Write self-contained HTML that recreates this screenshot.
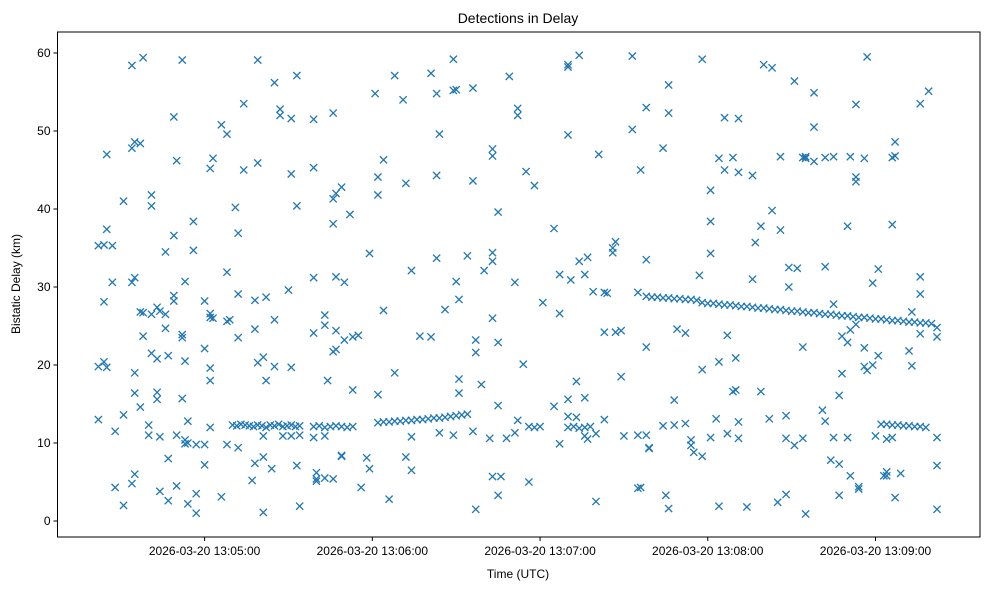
<!DOCTYPE html>
<html><head><meta charset="utf-8"><style>
body{margin:0;background:#fff;}
svg{display:block;font-family:"Liberation Sans","DejaVu Sans",sans-serif;}
</style></head><body>
<svg id="chart" width="989" height="590" viewBox="0 0 989 590">
<rect x="0" y="0" width="989" height="590" fill="#fff"/>
<text x="518" y="23" text-anchor="middle" font-size="14">Detections in Delay</text>
<g id="marks"></g>
<g id="axes"></g>
<text x="518" y="578" text-anchor="middle" font-size="12">Time (UTC)</text>
<text transform="translate(20,284) rotate(-90)" text-anchor="middle" font-size="12">Bistatic Delay (km)</text>
</svg>
<script>
// seconds relative to 2026-03-20 13:05:00 UTC, delay km
const xTickSeconds = [0, 60, 120, 180, 240];
const xTickLabels = ["2026-03-20 13:05:00","2026-03-20 13:06:00","2026-03-20 13:07:00","2026-03-20 13:08:00","2026-03-20 13:09:00"];
const yTickValues = [0, 10, 20, 30, 40, 50, 60];
const noisePoints = [
[-38,13],[-38,19.8],[-38,35.3],[-36,20.4],[-36,35.4],[-36,28.1],[-35,47],[-35,37.4],[-35,19.7],[-33,30.6],[-33,35.3],
[-32,11.5],[-32,4.3],[-29,41],[-29,2],[-29,13.6],[-26,58.4],[-26,4.8],[-26,30.6],[-26,47.8],[-25,48.6],[-25,31.2],[-25,6],[-25,19],[-25,16.4],
[-23,48.4],[-23,26.8],[-23,14.6],[-22,59.4],[-22,26.7],[-22,23.7],[-20,12.3],[-20,11],[-19,41.8],[-19,40.4],[-19,26.5],[-19,21.5],
[-17,20.8],[-17,16.5],[-17,15.6],[-17,27.4],[-16,26.9],[-16,3.8],[-16,10.8],[-14,34.5],[-14,24.7],[-14,26.5],[-13,8],[-13,2.6],[-13,21.2],
[-11,51.8],[-11,36.6],[-11,28.9],[-11,28.2],[-10,46.2],[-10,4.5],[-10,11],[-8,59.1],[-8,15.7],[-8,23.9],[-8,23.5],[-7,30.7],[-7,20.5],[-7,10.4],[-7,9.9],
[-6,12.8],[-6,10],[-6,2.2],[-4,38.4],[-4,34.7],[-3,3.5],[-3,1],[-3,9.8],[0,28.2],[0,22.1],[0,9.8],[0,7.2],
[2,45.2],[2,19.6],[2,18],[2,26.1],[2,26.6],[2,12],[3,46.5],[3,26],[6,50.8],[6,3.1],[8,49.6],[8,31.9],[8,25.6],[8,9.8],[9,25.8],
[11,40.2],[12,36.9],[12,29.1],[12,23.5],[12,9.4],[14,53.5],[14,45],[17,5.2],[18,28.3],[18,24.6],[18,7.4],[19,59.1],[19,45.9],[19,20.3],
[21,21],[21,1.1],[21,8.2],[21,10.9],[22,18],[22,28.7],[24,6.7],[25,56.2],[25,19.8],[25,25.8],[27,52.8],[27,52],[28,10.9],[30,29.6],
[31,51.6],[31,44.5],[31,19.7],[31,10.9],[33,57.1],[33,40.4],[33,7.1],[34,1.9],[34,11],[39,45.3],[39,51.5],[39,31.2],[39,24.1],[39,10.7],
[40,6.2],[40,5.4],[40,5.1],[43,26.4],[43,25.1],[43,10.9],[43,5.5],[44,18],[46,21.7],[46,5.4],[46,38.1],[46,52.3],[46,41.3],
[47,42],[47,31.3],[47,22],[47,24.4],[49,42.8],[49,8.4],[49,8.3],[50,30.6],[50,23.2],[52,39.3],[53,16.8],[53,23.6],[55,23.8],[56,4.3],[58,8.1],
[59,34.3],[59,6.7],[61,54.8],[62,44.1],[62,16.2],[62,41.8],[64,46.3],[64,27],[66,2.8],[68,57.1],[68,19],[71,54],[72,43.3],[72,8.2],
[74,32.1],[74,10.8],[74,6.5],[77,23.7],[81,23.6],[81,57.4],[83,54.8],[83,33.7],[83,44.3],[84,49.6],[84,11.3],[86,27.1],
[89,11],[89,59.2],[89,55.2],[90,55.3],[90,30.7],[91,18.2],[91,28.4],[91,16.4],[94,34],[96,43.6],[96,55.5],[96,11.5],[97,21.6],[97,23.2],[97,1.5],
[99,17.5],[100,32.1],[102,10.6],[103,47.7],[103,46.8],[103,34.4],[103,26],[103,5.7],[103,33.3],[105,22.9],[105,14.8],[105,3.3],[105,39.6],[106,5.7],
[108,10.6],[109,57],[111,11.3],[111,30.6],[112,52.9],[112,12.9],[112,52],[114,20.1],[115,44.8],[116,5],[118,43],[121,28],
[125,37.5],[125,14.7],[127,31.6],[127,26.6],[127,9.9],[130,58.5],[130,58.2],[130,49.5],[130,13.4],[130,15.6],[131,30.9],[133,17.9],[133,13.3],
[134,59.7],[134,33.3],[136,31.6],[136,15.8],[136,10.9],[137,33.8],[137,10.5],[139,29.4],[140,11.2],[140,2.5],[141,47],[143,29.3],[143,24.2],[143,13],
[144,29.2],[146,35],[146,34.4],[147,35.8],[147,24.2],[149,24.4],[149,18.5],[150,10.9],[153,59.6],[153,50.2],[155,11],[155,4.2],[155,29.3],
[156,45],[156,4.3],[158,53],[158,33.5],[158,22.3],[158,11],[159,9.3],[159,9.4],[164,47.8],[164,12.2],[165,3.3],[166,1.6],[166,55.9],[166,52.3],
[168,15.5],[168,12.3],[169,24.6],[172,12.5],[172,24.1],[174,10.4],[174,9.7],[175,8.8],[177,31.5],[178,59.2],[178,8.3],[178,19.4],
[181,10.7],[181,42.4],[181,38.4],[181,34.3],[183,13.1],[184,46.5],[184,20.4],[184,1.9],[186,51.7],[186,45],[187,23.8],[187,11.2],[189,46.6],[189,16.6],
[190,16.8],[190,20.9],[191,44.7],[191,51.6],[191,12.7],[191,10.6],[194,1.8],[196,44.3],[196,31],[197,35.7],[199,37.8],[199,16.6],[200,58.5],[202,13.1],
[203,58.1],[203,39.8],[205,2.4],[206,46.7],[206,37.3],[208,3.4],[208,13.5],[208,10.6],[209,32.5],[209,30],[211,56.4],[211,9.7],[212,32.4],
[214,46.6],[214,22.3],[214,10.6],[215,46.7],[215,46.5],[215,0.9],[218,54.9],[218,50.5],[218,46.1],[221,14.2],[222,46.6],[222,32.6],[222,12.8],[224,7.8],
[225,46.7],[225,27.8],[225,10.7],[227,3.3],[227,16.1],[227,7.3],[228,18.9],[228,23.7],[230,37.8],[230,22.9],[230,10.7],[231,46.7],[231,5.8],[231,24.5],
[233,53.4],[233,43.5],[233,44.1],[233,25.2],[234,4.4],[234,4.1],[236,46.5],[236,22.2],[236,19.8],[237,59.5],[237,19.3],[239,30.5],[239,20],[240,10.9],
[241,32.3],[241,21.2],[243,5.8],[244,5.8],[244,6.3],[244,10.5],[246,46.6],[246,38],[246,10.7],[247,48.6],[247,46.8],[247,3],[249,6.1],
[252,21.8],[253,19.9],[253,26.8],[256,53.5],[256,31.3],[256,29.1],[256,24],[259,55.1],[262,23.6],[262,10.7],[262,1.5],[262,7.1],[262,24.8]
];
const trackA = [[10,12.3],[11.5,12.2],[13,12.4],[14.5,12.3],[16,12.2],[17.5,12.1],[19,12.3],[20.5,12.2],[22,12.0],[23.5,12.3],[25,12.2],[26.5,12.4],[28,12.1],[29.5,12.2],[31,12.3],[32.5,12.1],[34,12.2]];
const trackB = [[39,12.1],[41,12.2],[43,12.0],[45,12.1],[47,12.2],[49,12.1],[51,12.0],[53,12.1]];
const trackC = [[62,12.6],[64,12.7],[66,12.7],[68,12.8],[70,12.8],[72,12.9],[74,12.9],[76,13.0],[78,13.0],[80,13.1],[82,13.2],[84,13.2],[86,13.3],[88,13.4],[90,13.5],[92,13.6],[94,13.7]];
const trackD = [[116,12.1],[118,12.0],[120,12.1],[130,12.0],[132,12.1],[134,11.9],[136,12.0],[138,12.1]];
const trackE = [[158,28.8],[160,28.7],[162,28.7],[164,28.6],[166,28.6],[168,28.5],[170,28.5],[172,28.4],[174,28.4],[176,28.3]];
const trackF = [[178,28.0],[180,27.9],[182,27.9],[184,27.8],[186,27.7],[188,27.7],[190,27.6],[192,27.5],[194,27.5],[196,27.4],[198,27.3],[200,27.3],[202,27.2],[204,27.1],[206,27.1],[208,27.0],[210,26.9],[212,26.9],[214,26.8],[216,26.7],[218,26.7],[220,26.6],[222,26.5],[224,26.5],[226,26.4],[228,26.3],[230,26.3],[232,26.2],[234,26.1],[236,26.1],[238,26.0],[240,25.9],[242,25.9],[244,25.8],[246,25.7],[248,25.7],[250,25.6],[252,25.5],[254,25.5],[256,25.4],[258,25.4],[260,25.3]];
const trackG = [[242,12.4],[244,12.4],[246,12.3],[248,12.3],[250,12.2],[252,12.2],[254,12.1],[256,12.1],[258,12.0]];

const PL=57.5, PR=980, PT=32, PB=537;
function xScale(s){ return 204.6 + s*(875.5-204.6)/240; }
function yScale(v){ return 521 - v*(521-53)/60; }
const NS="http://www.w3.org/2000/svg";
const marks=document.getElementById('marks');
const axes=document.getElementById('axes');
function mk(tag,attrs,parent){const e=document.createElementNS(NS,tag);for(const k in attrs)e.setAttribute(k,attrs[k]);parent.appendChild(e);return e;}
const all=[noisePoints,trackA,trackB,trackC,trackD,trackE,trackF,trackG];
all.forEach(arr=>arr.forEach(p=>{
  const cx=xScale(p[0]), cy=yScale(p[1]), r=3.6;
  const g=mk('path',{d:`M${cx-r},${cy-r}L${cx+r},${cy+r}M${cx-r},${cy+r}L${cx+r},${cy-r}`,stroke:'#1f77b4','stroke-width':1.3,fill:'none'},marks);
  
  
}));
const frame=mk('rect',{x:PL,y:PT,width:PR-PL,height:PB-PT,fill:'none',stroke:'#000','stroke-width':1},axes);


xTickSeconds.forEach((s,i)=>{
  const x=xScale(s);
  const t=mk('line',{x1:x,x2:x,y1:PB,y2:PB+4,stroke:'#000'},axes);
  
  
  const l=mk('text',{x:x,y:PB+18,'text-anchor':'middle','font-size':12},axes);
  l.textContent=xTickLabels[i];
  
  
});
yTickValues.forEach(v=>{
  const y=yScale(v);
  const t=mk('line',{x1:PL-4,x2:PL,y1:y,y2:y,stroke:'#000'},axes);
  
  
  const l=mk('text',{x:PL-7,y:y+4,'text-anchor':'end','font-size':12},axes);
  l.textContent=String(v);
  
  
});
</script>
</body></html>
